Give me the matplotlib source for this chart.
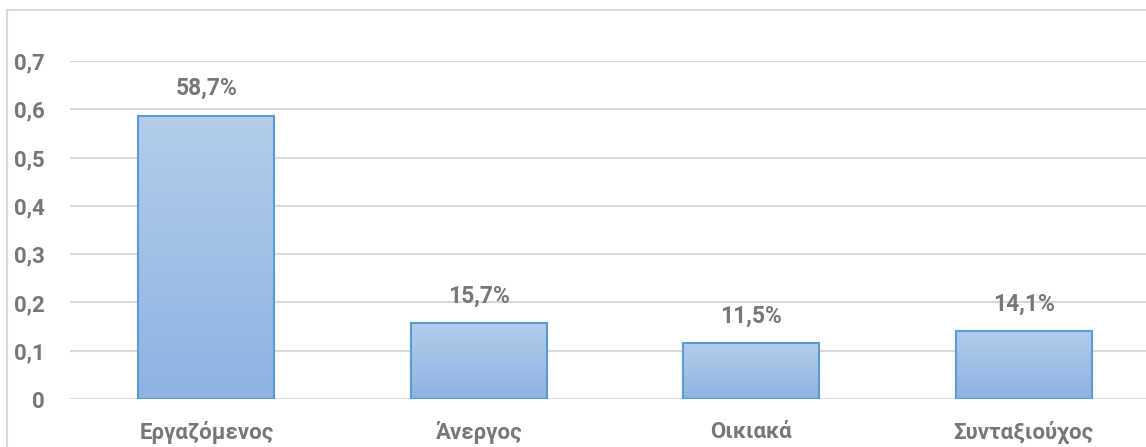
import numpy as np
import matplotlib.pyplot as plt
from matplotlib.colors import LinearSegmentedColormap
from matplotlib.patches import Rectangle

categories = ["Εργαζόμενος", "Άνεργος", "Οικιακά", "Συνταξιούχος"]
values = [0.587, 0.157, 0.115, 0.141]
labels = ["58,7%", "15,7%", "11,5%", "14,1%"]
yticks = [0, 0.1, 0.2, 0.3, 0.4, 0.5, 0.6, 0.7]
ytick_labels = ["0", "0,1", "0,2", "0,3", "0,4", "0,5", "0,6", "0,7"]

plt.rcParams["font.family"] = ["Roboto", "DejaVu Sans"]
text_color = "#777777"
fs = 16

fig = plt.figure(figsize=(11.46, 4.47), dpi=100)
# chart frame (cropped at right/bottom like the reference)
fig.patches.append(Rectangle((7 / 1146, -0.1), 1.2, 1 - 10 / 447 + 0.1,
                             transform=fig.transFigure, fill=False,
                             edgecolor="#d9d9d9", linewidth=1.5))

ax = fig.add_axes([70 / 1146, 1 - 399 / 447, 1090 / 1146, (399 - 61) / 447])
x = np.arange(len(categories))
bars = ax.bar(x, values, width=0.5, color="none", edgecolor="#5b9bd5",
              linewidth=1.5, zorder=3)

cmap = LinearSegmentedColormap.from_list("grad", ["#8db3e2", "#b3cdeb"])
grad = np.linspace(0, 1, 256).reshape(-1, 1)
for b in bars:
    im = ax.imshow(grad, cmap=cmap, aspect="auto", origin="lower",
                   extent=(b.get_x(), b.get_x() + b.get_width(), 0, b.get_height()),
                   zorder=2)
    im.set_clip_path(b)

for b, lab in zip(bars, labels):
    ax.annotate(lab, (b.get_x() + b.get_width() / 2, b.get_height()),
                xytext=(0, 19.5), textcoords="offset points", ha="center",
                va="center", fontsize=16.5, fontweight="bold", color=text_color)

ax.set_xlim(-0.5, 3.5)
ax.set_ylim(0, 0.7)
ax.set_yticks(yticks)
ax.set_yticklabels(ytick_labels)
ax.set_xticks(x)
ax.set_xticklabels(categories)
ax.tick_params(axis="y", length=0, pad=18, labelsize=fs, labelcolor=text_color)
ax.tick_params(axis="x", length=0, pad=16, labelsize=fs, labelcolor=text_color)
for t in ax.get_xticklabels() + ax.get_yticklabels():
    t.set_fontweight("bold")
ax.grid(axis="y", color="#d9d9d9", linewidth=1.5, zorder=0)
ax.set_axisbelow(True)
for s in ax.spines.values():
    s.set_visible(False)

fig.savefig("out.png", dpi=100)
